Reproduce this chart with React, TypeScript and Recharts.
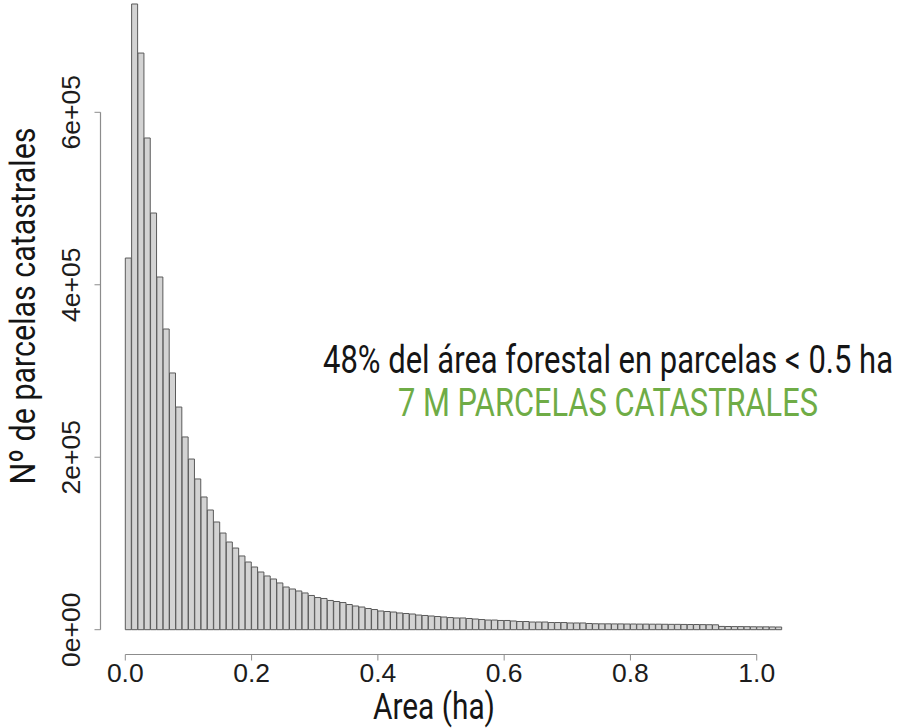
import React from "react";
import { BarChart, Bar, XAxis, YAxis, ReferenceLine } from "recharts";

// ---- data ----
const BIN_WIDTH = 0.01;
const counts = [
  431000, 725600, 668700, 570200, 483200, 409000, 348700, 297700, 258200, 223500,
  197900, 174800, 153900, 138800, 124900, 112100, 101700, 94700, 85500, 78500,
  72700, 66900, 62300, 58800, 54200, 49500, 47200, 44900, 42600, 39700,
  37300, 36200, 33900, 32700, 31500, 29200, 27500, 26300, 24600, 23400,
  21700, 21100, 20500, 19400, 18800, 18200, 17000, 16500, 15900, 15300,
  14700, 14100, 13600, 13600, 13000, 12400, 11800, 11200, 11200, 10700,
  10700, 10100, 9500, 9500, 8900, 8900, 8900, 8300, 8300, 8300,
  7800, 7800, 7800, 7200, 6900, 6800, 6800, 6700, 6700, 6600,
  6600, 6500, 6500, 6400, 6400, 6300, 6200, 6200, 6100, 6000,
  6000, 5900, 5800, 5700, 3800, 3700, 3600, 3600, 3500, 3400,
  3300, 3300, 3200, 3100,
];
const xTicks = [0, 0.2, 0.4, 0.6, 0.8, 1.0];
const xTickLabels = ["0.0", "0.2", "0.4", "0.6", "0.8", "1.0"];
const yTicks = [0, 200000, 400000, 600000];
const yTickLabels = ["0e+00", "2e+05", "4e+05", "6e+05"];

const xTitle = "Area (ha)";
const yTitle = "Nº de parcelas catastrales";
const note1 = "48% del área forestal en parcelas < 0.5 ha";
const note2 = "7 M PARCELAS CATASTRALES";

const data = counts.map((c, i) => ({ mid: (i + 0.5) * BIN_WIDTH, count: c }));

// ---- layout ----
const W = 897;
const H = 728;
const X_DOMAIN: [number, number] = [-0.03928, 1.05];
const Y_DOMAIN: [number, number] = [-28760, 730230];
const AXIS_COLOR = "#8c8c8c";
const TICK_FONT = "'Liberation Sans', Arial, sans-serif";
const LABEL_FONT = "Roboto, 'Liberation Sans', sans-serif";

const fmtX = (v: number) => {
  const i = xTicks.indexOf(v);
  return i >= 0 ? xTickLabels[i] : String(v);
};
const fmtY = (v: number) => {
  const i = yTicks.indexOf(v);
  return i >= 0 ? yTickLabels[i] : String(v);
};

const XTick = (props: any) => {
  const { x, y, payload } = props;
  return (
    <text x={x} y={y} dy="0.71em" textAnchor="middle" fontFamily={TICK_FONT} fontSize={26.5} fill="#1c1c1c">
      {fmtX(payload.value)}
    </text>
  );
};

const YTick = (props: any) => {
  const { x, y, payload } = props;
  return (
    <text
      x={x}
      y={y}
      transform={`rotate(-90, ${x}, ${y})`}
      textAnchor="middle"
      fontFamily={TICK_FONT}
      fontSize={26.5}
      fill="#1c1c1c"
    >
      {fmtY(payload.value)}
    </text>
  );
};

// condensed-looking text: natural width at a smaller size, stretched vertically
const CondText = ({
  x,
  y,
  rotate = 0,
  size,
  stretch,
  length,
  fill,
  children,
}: {
  x: number;
  y: number;
  rotate?: number;
  size: number;
  stretch: number;
  length: number;
  fill: string;
  children: string;
}) => (
  <g transform={`translate(${x}, ${y}) rotate(${rotate}) scale(1, ${stretch})`}>
    <text
      x={0}
      y={0}
      textAnchor="middle"
      fontFamily={LABEL_FONT}
      fontSize={size}
      fill={fill}
      textLength={length}
      lengthAdjust="spacingAndGlyphs"
    >
      {children}
    </text>
  </g>
);

export default function App() {
  return (
    <div style={{ position: "absolute", left: 0, top: 0, width: W, height: H, background: "#fff" }}>
      <BarChart
        width={W}
        height={H}
        data={data}
        margin={{ top: 0, right: 108.7, bottom: 0, left: 0 }}
        barCategoryGap={0}
        barGap={0}
      >
        <XAxis
          dataKey="mid"
          type="number"
          domain={X_DOMAIN}
          ticks={xTicks}
          interval={0}
          height={73.5}
          axisLine={false}
          tickLine={{ stroke: AXIS_COLOR }}
          stroke={AXIS_COLOR}
          tickSize={6}
          tickMargin={3}
          tick={<XTick />}
        />
        <YAxis
          type="number"
          domain={Y_DOMAIN}
          ticks={yTicks}
          interval={0}
          width={100.5}
          axisLine={false}
          tickLine={{ stroke: AXIS_COLOR }}
          stroke={AXIS_COLOR}
          tickSize={6}
          tickMargin={14}
          tick={<YTick />}
        />
        <Bar dataKey="count" fill="#d3d3d3" stroke="#5a5a5a" strokeWidth={1} isAnimationActive={false} />
        <ReferenceLine
          segment={[
            { x: xTicks[0], y: Y_DOMAIN[0] },
            { x: xTicks[xTicks.length - 1], y: Y_DOMAIN[0] },
          ]}
          stroke={AXIS_COLOR}
          strokeWidth={1.2}
          ifOverflow="visible"
        />
        <ReferenceLine
          segment={[
            { x: X_DOMAIN[0], y: yTicks[0] },
            { x: X_DOMAIN[0], y: yTicks[yTicks.length - 1] },
          ]}
          stroke={AXIS_COLOR}
          strokeWidth={1.2}
          ifOverflow="visible"
        />
      </BarChart>
      <svg
        width={W}
        height={H}
        style={{ position: "absolute", left: 0, top: 0, pointerEvents: "none" }}
      >
        <CondText x={35} y={306} rotate={-90} size={30.6} stretch={36 / 30.6} length={357} fill="#151515">
          {yTitle}
        </CondText>
        <CondText x={434} y={719} size={30} stretch={36 / 30} length={122} fill="#151515">
          {xTitle}
        </CondText>
        <CondText x={608} y={373} size={31} stretch={38 / 31} length={570} fill="#151515">
          {note1}
        </CondText>
        <CondText x={608} y={416} size={30.2} stretch={38 / 30.2} length={420} fill="#6fac46">
          {note2}
        </CondText>
      </svg>
    </div>
  );
}
